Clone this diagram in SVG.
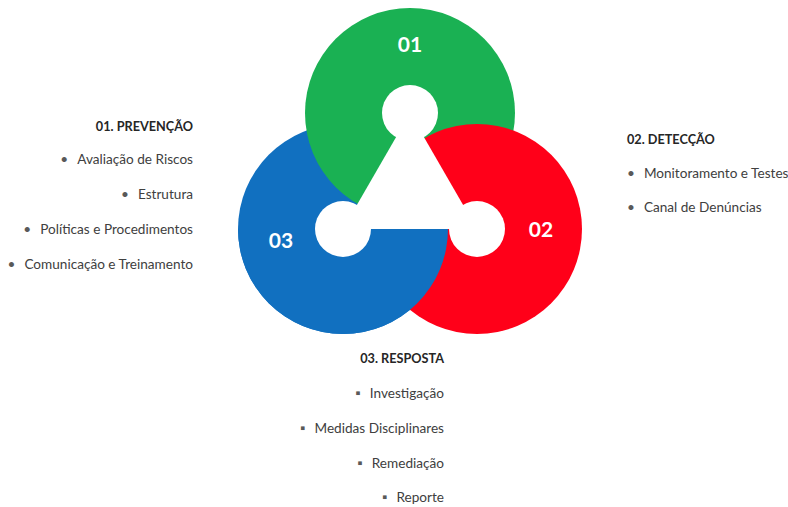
<svg xmlns="http://www.w3.org/2000/svg" width="788" height="507" viewBox="0 0 788 507">
<style>
.lbl{font-family:Lato,"Open Sans","Liberation Sans",sans-serif;font-weight:bold;font-size:21px;fill:#fff;text-anchor:middle}
.h{font-family:Lato,"Liberation Sans",sans-serif;font-weight:bold;font-size:12.7px;fill:#262626}
.t{font-family:Lato,"Liberation Sans",sans-serif;font-size:13.6px;fill:#404040}
.b{fill:#595959}
.e{text-anchor:end}
.hole{fill:#fff}
</style>
<defs>
<clipPath id="below"><rect x="0" y="229" width="788" height="278"/></clipPath>
</defs>
<rect width="788" height="507" fill="#fff"/>
<g id="node-03-shape"><circle cx="343" cy="229" r="105" fill="#1170C0"/></g>
<g id="node-01-shape"><circle cx="410" cy="113" r="105" fill="#1AB153"/></g>
<g id="node-02-shape"><circle cx="477" cy="229" r="105" fill="#FF0019"/></g>
<g id="node-03-overlap"><circle cx="343" cy="229" r="105" fill="#1170C0" clip-path="url(#below)"/></g>
<g id="connectors">
<polygon points="410,113 343,229 477,229" fill="#fff"/>
<circle class="hole" cx="410" cy="113" r="28"/>
<circle class="hole" cx="343" cy="229" r="28"/>
<circle class="hole" cx="477" cy="229" r="28"/>
</g>
<g id="node-01-label"><text class="lbl" x="410" y="52">01</text></g>
<g id="node-02-label"><text class="lbl" x="541" y="237">02</text></g>
<g id="node-03-label"><text class="lbl" x="281" y="248">03</text></g>
<g id="list-prevencao">
<text class="h e" x="193" y="131">01. PREVENÇÃO</text>
<text class="t e" x="193" y="164"><tspan class="b">•</tspan><tspan dx="9">Avaliação de Riscos</tspan></text>
<text class="t e" x="193" y="199"><tspan class="b">•</tspan><tspan dx="9">Estrutura</tspan></text>
<text class="t e" x="193" y="234"><tspan class="b">•</tspan><tspan dx="9">Políticas e Procedimentos</tspan></text>
<text class="t e" x="193" y="269"><tspan class="b">•</tspan><tspan dx="9">Comunicação e Treinamento</tspan></text>
</g>
<g id="list-deteccao">
<text class="h" x="627" y="144">02. DETECÇÃO</text>
<text class="t" x="627" y="178"><tspan class="b">•</tspan><tspan dx="9">Monitoramento e Testes</tspan></text>
<text class="t" x="627" y="212"><tspan class="b">•</tspan><tspan dx="9">Canal de Denúncias</tspan></text>
</g>
<g id="list-resposta">
<text class="h e" x="444" y="363">03. RESPOSTA</text>
<text class="t e" x="444" y="398"><tspan class="b">▪</tspan><tspan dx="9">Investigação</tspan></text>
<text class="t e" x="444" y="433"><tspan class="b">▪</tspan><tspan dx="9">Medidas Disciplinares</tspan></text>
<text class="t e" x="444" y="468"><tspan class="b">▪</tspan><tspan dx="9">Remediação</tspan></text>
<text class="t e" x="444" y="502"><tspan class="b">▪</tspan><tspan dx="9">Reporte</tspan></text>
</g>
</svg>
